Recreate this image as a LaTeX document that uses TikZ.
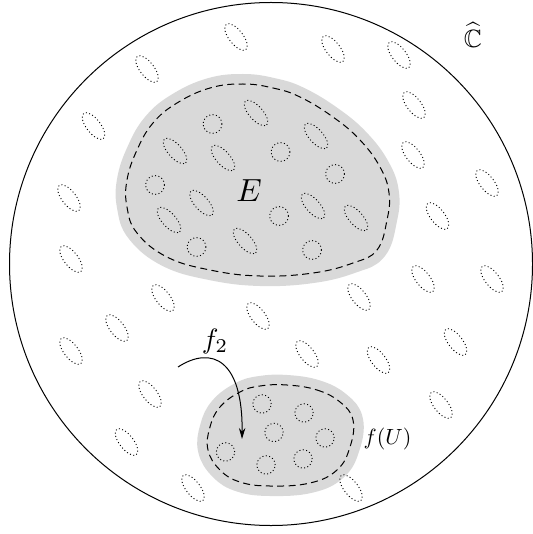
\documentclass[tikz,border=0pt]{standalone}
\usepackage{amssymb}
\usetikzlibrary{arrows.meta}
\begin{document}
\begin{tikzpicture}[x=0.5pt,y=-0.5pt,
  hole/.style={draw, line width=0.45pt, dash pattern=on 0.5pt off 1.2pt},
  rim/.style={draw, line width=0.5pt, dash pattern=on 3.5pt off 2.2pt,
    preaction={fill=gray!30, draw=gray!30, line width=10pt, solid, line join=round}},
  ov/.style={x radius=8pt, y radius=3.5pt, rotate=-52},
  ovin/.style={x radius=8pt, y radius=3.4pt, rotate=-48},
  lbl/.style={inner sep=0pt}]
\useasboundingbox (0,0) rectangle (533,534);
% sphere
\draw[line width=0.5pt] (271,264) circle [radius=130.75pt];
% region E
\path[rim] plot[smooth cycle, tension=0.7] coordinates {
 (243,84) (273,88) (300,97) (333,117) (360,140) (380,167) (389,193) (387,220)
 (377,250) (353,263) (313,273) (260,276) (210,270) (167,257) (137,233)
 (127,207) (127,180) (137,150) (153,123) (177,103) (210,88)};
% region f(U)
\path[rim] plot[smooth cycle, tension=0.7] coordinates {
 (287,385) (317,390) (340,402) (353,420) (350,447) (337,470) (310,483)
 (270,486) (240,482) (220,470) (208,450) (210,427) (220,407) (240,392) (260,386)};
% outer holes
\foreach \p in {(236,37),(333,49),(399,55),(147,69),(414,105),(93.5,126),
  (413,155),(487,183),(69,198),(437.5,216),(71,259),(423,279),(492,279),
  (163,298),(359,297),(258,316),(117,328),(71,351),(455.5,342),(307,354),
  (378.5,360),(150,394),(441,405),(126.5,442),(193,488),(351,488)}
  \draw[hole] \p ellipse [ov];
% holes in E
\foreach \p in {(256,113),(175,151),(223,158),(316,136),(201.5,203),(169,220),
  (313,206),(356,218),(245,241)}
  \draw[hole] \p ellipse [ovin];
\foreach \p in {(212.5,124),(280.5,152),(335,174),(155,185),(279,216),
  (196.5,247),(312,250)}
  \draw[hole] \p circle [radius=4.7pt];
% holes in f(U)
\foreach \p in {(262,404),(304,413),(274,432.5),(325,438),(225.5,452),
  (266,465),(303,459)}
  \draw[hole] \p circle [radius=4.6pt];
% labels
\node[lbl, scale=1.6] (E) at (249,191) {$E$};
\node[lbl, scale=1.1] (fU) at (387.5,438.5) {$f(U)$};
\node[lbl, scale=1.4] (f2) at (215,341) {$f_2$};
\node[lbl, scale=1.25] (C) at (473,35) {$\widehat{\mathbb{C}}$};
% arrow
\coordinate (as) at (178,367);
\coordinate (ae) at (242,439);
\draw[line width=0.5pt, -{Stealth[length=5.5pt,width=3.2pt]}] (as) .. controls (212,345) and (243,360) .. (ae);
\end{tikzpicture}
\end{document}
